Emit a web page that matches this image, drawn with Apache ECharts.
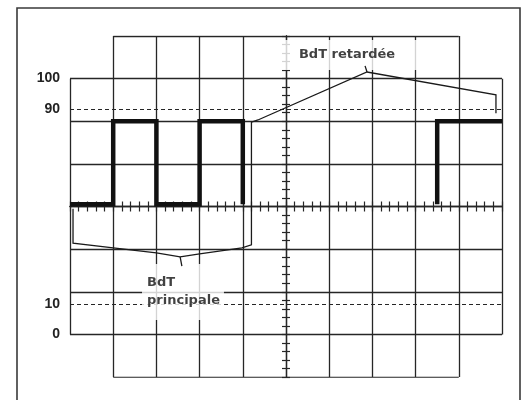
<!DOCTYPE html>
<html>
<head>
<meta charset="utf-8">
<script src="https://cdn.jsdelivr.net/npm/echarts@6/dist/echarts.min.js"></script>
<style>
html,body{margin:0;padding:0;background:#fff;}
#chart{width:526px;height:400px;}
</style>
</head>
<body>
<div id="chart"></div>
<script>
// Graticule (divisions): columns and rows
const gridCols = [-5, -4, -3, -2, -1, 1, 2, 3, 4, 5];
const gridRows = [-4, -3, -2, -1, 1, 2, 3, 4];

// Level marks (percent) and their vertical positions in divisions
const levelLabels = ['0', '10', '90', '100'];
const levelPos = [-3, -2.29, 2.29, 3];
const dashedLevels = [-2.29, 2.29];

// Trace: main time base pulses and the delayed-sweep pulse
const traceMain = [[-5, 0.05], [-4, 0.05], [-4, 2], [-3, 2], [-3, 0.05], [-2, 0.05], [-2, 2], [-1, 2], [-1, 0.05]];
const traceDelayed = [[3.5, 0.05], [3.5, 2], [5, 2]];

// Brackets (annotations)
const bracketPath = [[-4.93, -0.05], [-4.93, -0.86], [-4, -0.97], [-3, -1.09], [-2.45, -1.18], [-2, -1.11], [-1.02, -0.97], [-0.8, -0.9],
  [-0.8, 1.98], [-0.65, 2.03], [1.875, 3.155], [4.86, 2.62], [4.86, 2.19]];
const bracketTickMain = [[-2.45, -1.18], [-2.41, -1.40]];
const bracketTickDelayed = [[1.875, 3.155], [1.83, 3.30]];

// Annotation texts
const labelDelayed = 'BdT retardée';
const labelMain = 'BdT\nprincipale';
const labelDelayedAt = [1.412, 3.554];
const labelMainAt = [-3.333, -2.006];

const gridSegments = [];
gridCols.forEach(function (x) {
  const ext = Math.abs(x) === 5 ? 3 : 4;
  gridSegments.push({ coords: [[x, -ext], [x, ext]] });
});
gridRows.forEach(function (y) {
  const ext = Math.abs(y) === 4 ? 4 : 5;
  gridSegments.push({ coords: [[-ext, y], [ext, y]] });
});
const dashedSegments = dashedLevels.map(function (y) { return { coords: [[-5, y], [5, y]] }; });

const lineCol = '#262626';
const centerAxis = function (dim, inside, len) {
  return {
    type: 'value',
    min: dim === 'x' ? -5 : -4,
    max: dim === 'x' ? 5 : 4,
    interval: 0.2,
    position: dim === 'x' ? 'bottom' : 'left',
    axisLine: { show: true, onZero: true, onZeroAxisIndex: 0, lineStyle: { color: lineCol, width: 1.3 } },
    axisTick: { show: true, inside: inside, length: len, lineStyle: { color: lineCol, width: 1.2 } },
    axisLabel: { show: false },
    splitLine: { show: false }
  };
};

const chart = echarts.init(document.getElementById('chart'), null, { renderer: 'canvas' });
chart.setOption({
  animation: false,
  backgroundColor: '#ffffff',
  grid: { left: 70, right: 24, top: 36, bottom: 23, containLabel: false, outerBoundsMode: 'none' },
  xAxis: [centerAxis('x', true, 5), centerAxis('x', false, 5)],
  yAxis: [
    centerAxis('y', true, 4),
    centerAxis('y', false, 4),
    {
      type: 'value', min: -4, max: 4, position: 'left',
      axisLine: { show: false, onZero: false },
      axisTick: { show: false },
      splitLine: { show: false },
      axisLabel: {
        show: true,
        customValues: levelPos,
        margin: 10,
        padding: [4, 0, 0, 0],
        color: '#222',
        fontFamily: 'Liberation Sans, Arial, sans-serif',
        fontWeight: 'bold',
        fontSize: 14,
        formatter: function (v) {
          for (let i = 0; i < levelPos.length; i++) {
            if (Math.abs(levelPos[i] - v) < 1e-6) return levelLabels[i];
          }
          return '';
        }
      }
    }
  ],
  graphic: [{
    type: 'rect',
    shape: { x: 17, y: 8, width: 503, height: 400 },
    style: { fill: 'none', stroke: '#3a3a3a', lineWidth: 1.6 },
    silent: true
  }],
  series: [
    {
      type: 'lines', coordinateSystem: 'cartesian2d', z: 1, silent: true,
      lineStyle: { color: lineCol, width: 1.3, opacity: 1, curveness: 0 },
      data: gridSegments
    },
    {
      type: 'lines', coordinateSystem: 'cartesian2d', z: 1, silent: true,
      lineStyle: { color: lineCol, width: 1.2, opacity: 1, type: [4, 3], curveness: 0 },
      data: dashedSegments
    },
    {
      type: 'scatter', z: 3, silent: true, symbolSize: 1,
      itemStyle: { color: 'rgba(255,255,255,0)' },
      data: [
        {
          value: labelDelayedAt,
          label: {
            show: true, position: 'inside', formatter: labelDelayed, align: 'center', verticalAlign: 'middle',
            backgroundColor: '#ffffff', padding: [8, 24, 6, 24], lineHeight: 16,
            fontFamily: 'DejaVu Sans', fontWeight: 'bold', fontSize: 13, color: '#111'
          }
        },
        {
          value: labelMainAt,
          label: {
            show: true, position: 'inside', formatter: labelMain, align: 'left', verticalAlign: 'middle',
            backgroundColor: '#ffffff', padding: [10, 4, 10, 5], lineHeight: 18,
            fontFamily: 'DejaVu Sans', fontWeight: 'bold', fontSize: 13, color: '#111'
          }
        }
      ]
    },
    {
      type: 'lines', coordinateSystem: 'cartesian2d', polyline: true, z: 4, silent: true,
      lineStyle: { color: '#1a1a1a', width: 1.3, opacity: 1, curveness: 0 },
      data: [{ coords: bracketPath }, { coords: bracketTickMain }, { coords: bracketTickDelayed }]
    },
    {
      type: 'lines', coordinateSystem: 'cartesian2d', polyline: true, z: 5, silent: true,
      lineStyle: { color: '#111', width: 4.5, opacity: 1, curveness: 0, join: 'miter', cap: 'butt' },
      data: [{ coords: traceMain }, { coords: traceDelayed }]
    }
  ]
});
</script>
</body>
</html>
